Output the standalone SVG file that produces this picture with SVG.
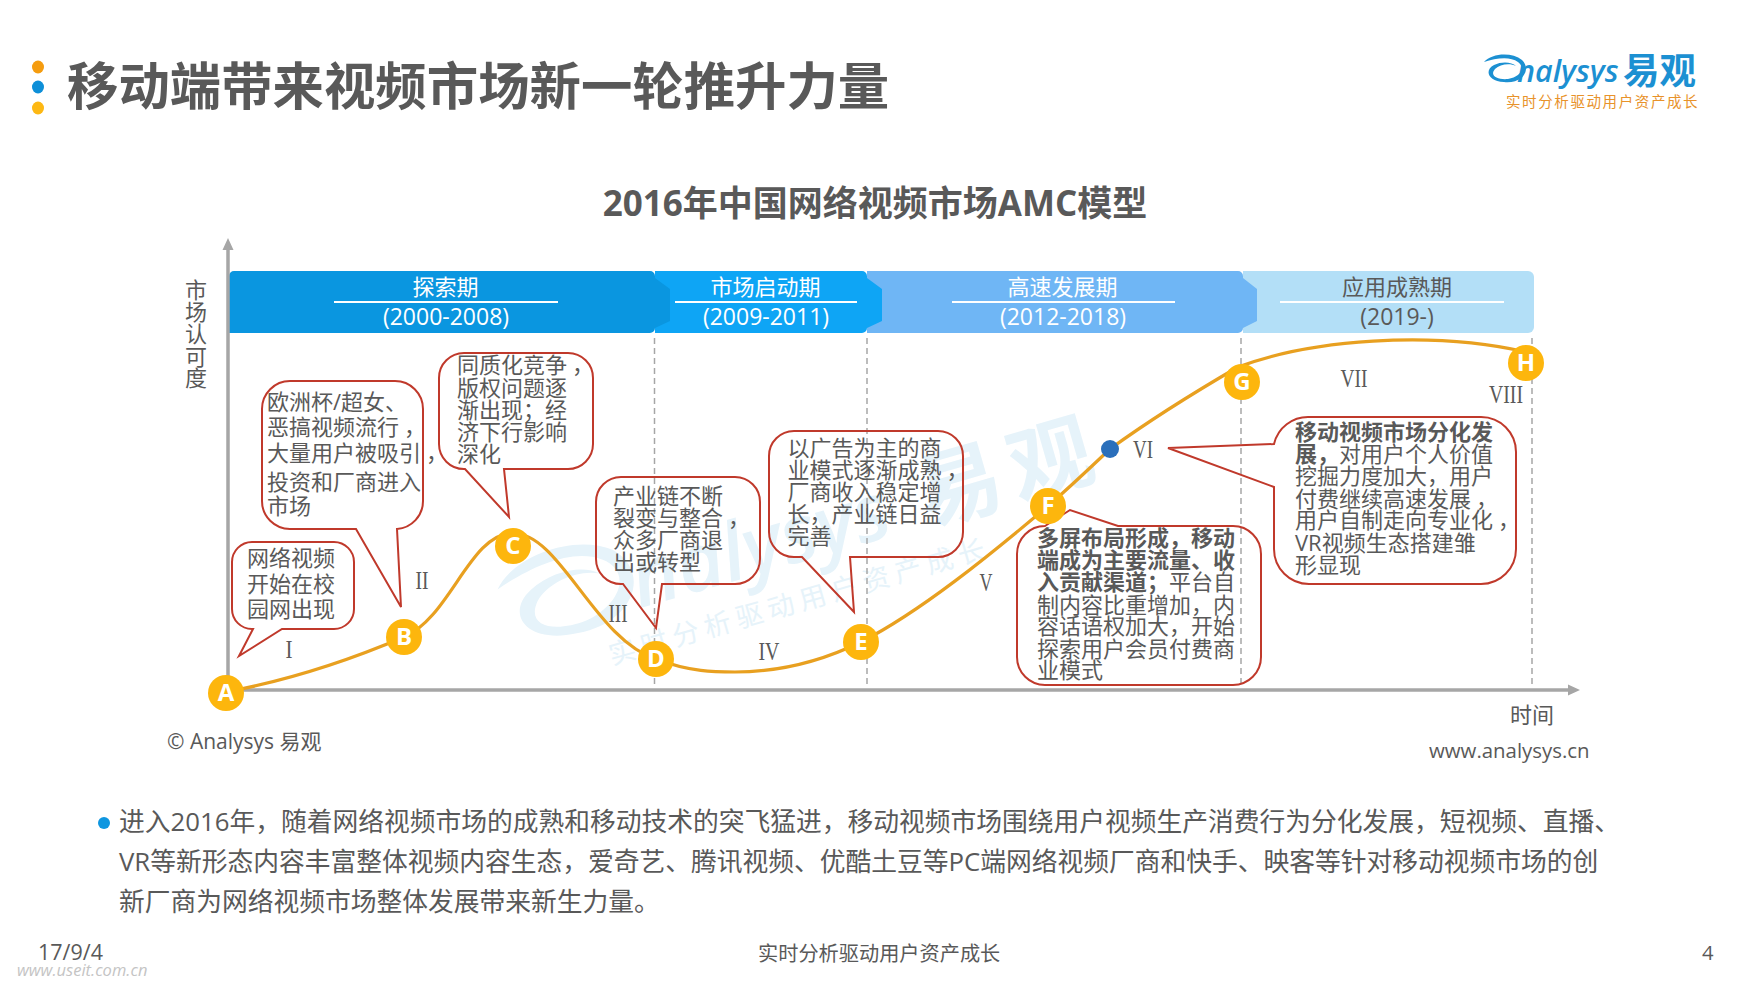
<svg xmlns="http://www.w3.org/2000/svg" width="1760" height="990" viewBox="0 0 1760 990">
<style>
text{font-family:"Open Sans","Noto Sans CJK SC",sans-serif;fill:#595959}
.t{font-size:22px}
.b{font-weight:700}
.band{font-size:22px;text-anchor:middle;fill:#fff}
.yr{font-size:23px}
.rn{font-family:"Liberation Serif",serif;font-size:25px;text-anchor:middle}
.body{font-size:25.75px}
.foot{font-size:20.2px}
.call{fill:none;stroke:#c0392b;stroke-width:2}
.dash{stroke:#a6a6a6;stroke-width:1.5;stroke-dasharray:6 4}
.axis{stroke:#a6a6a6;stroke-width:3.5;fill:none}
.nd{fill:#fdb60d}
.ndt{font-size:24px;font-weight:700;fill:#fff;text-anchor:middle}
.rule{stroke:#fff;stroke-width:2}
text.wm{fill:#e6f3fa}
</style>
<defs>
<path id="swirl" d="M1484 62C1492 53 1512 52 1522 60C1532 70 1522 84 1504 82C1488 81 1484 70 1494 65C1502 61 1512 62 1516 66C1510 63 1500 64 1495 69C1489 76 1498 80 1508 79C1520 77 1526 68 1518 62C1510 56 1496 58 1484 62Z"/>
</defs>
<rect width="1760" height="990" fill="#fff"/>
<g id="watermark" transform="translate(612 665) rotate(-16)">
<use href="#swirl" fill="#e6f3fa" transform="translate(-22 -85) scale(3.2) translate(-1505 -68)"/>
<text class="wm" x="42" y="-47" font-size="80" font-style="italic" font-weight="600">nalysys</text>
<text class="wm" x="342" y="-47" font-size="84" font-weight="700" letter-spacing="10">易观</text>
<text class="wm" x="0" y="0" font-size="27" letter-spacing="6">实时分析驱动用户资产成长</text>
</g>
<g id="header">
<ellipse cx="38" cy="67" rx="6" ry="6.5" fill="#f59c0f"/>
<ellipse cx="38" cy="87" rx="6" ry="6.5" fill="#0e8fd8"/>
<ellipse cx="38" cy="108" rx="6" ry="6.5" fill="#fdb813"/>
<text x="67" y="105" font-size="51.4" class="b">移动端带来视频市场新一轮推升力量</text>
<text x="875" y="216" font-size="35" class="b" text-anchor="middle">2016年中国网络视频市场AMC模型</text>
</g>
<g id="logo">
<use href="#swirl" fill="#1c90d2"/>
<text x="1517" y="82" font-size="30.500" font-style="italic" font-weight="600" style="fill:#1c90d2">nalysys</text>
<text x="1623" y="84" font-size="36.500" class="b" style="fill:#1c90d2">易观</text>
<text x="1506" y="107" font-size="14.500" letter-spacing="1.600" style="fill:#e8922a">实时分析驱动用户资产成长</text>
</g>
<g id="bands">
<path d="M1243 271H1528a6 6 0 0 1 6 6V327a6 6 0 0 1-6 6H1243Z" fill="#b3dff7"/>
<path d="M867 271H1238a5 5 0 0 1 5 5V278L1257 289V321L1243 328V328a5 5 0 0 1-5 5H867Z" fill="#6fb6f5"/>
<path d="M655 271H862a5 5 0 0 1 5 5V278L882 289V321L867 328V328a5 5 0 0 1-5 5H655Z" fill="#0ea5f5"/>
<path d="M229 276a5 5 0 0 1 5-5H650a5 5 0 0 1 5 5V278L670 289V321L655 328V328a5 5 0 0 1-5 5H229Z" fill="#0a96e0"/>
<text class="band" x="445.500" y="294.500">探索期</text><line class="rule" x1="334" y1="302" x2="558" y2="302"/><text class="band yr" x="446" y="325">(2000-2008)</text>
<text class="band" x="765.500" y="294.500">市场启动期</text><line class="rule" x1="675" y1="302" x2="857" y2="302"/><text class="band yr" x="766" y="325">(2009-2011)</text>
<text class="band" x="1062.500" y="294.500">高速发展期</text><line class="rule" x1="952" y1="302" x2="1175" y2="302"/><text class="band yr" x="1063" y="325">(2012-2018)</text>
<text class="band" x="1397" y="294.500" style="fill:#595959">应用成熟期</text><line class="rule" x1="1280" y1="302" x2="1504" y2="302"/><text class="band yr" x="1397" y="325" style="fill:#595959">(2019-)</text>
</g>
<g id="axes">
<line class="dash" x1="654.500" y1="338" x2="654.500" y2="684"/>
<line class="dash" x1="867" y1="338" x2="867" y2="684"/>
<line class="dash" x1="1241" y1="338" x2="1241" y2="684"/>
<line class="dash" x1="1532" y1="338" x2="1532" y2="684"/>
<path class="axis" d="M228 690V248M228 690H1570"/>
<path d="M228 238L233.500 250H222.500ZM1580 690L1568 684.500V695.500Z" fill="#a6a6a6"/>
<g class="t"><text x="185" y="298">市</text><text x="185" y="320">场</text><text x="185" y="342">认</text><text x="185" y="365">可</text><text x="185" y="386">度</text></g>
<text x="1510" y="723" class="t">时间</text>
<text x="1429" y="758" font-size="20.400">www.analysys.cn</text>
<text x="167" y="749" font-size="21">© Analysys 易观</text>
</g>
<g id="connectors">
<path d="M226 692C290 680 350 660 404 637C450 618 470 533 513 533C560 533 595 640 656 659C690 672 715 672 735 672C780 672 820 662 861 642C920 612 990 555 1048 506C1070 487 1090 468 1110 449C1150 420 1195 392 1238 367C1310 340 1430 330 1526 352" fill="none" stroke="#e8a020" stroke-width="3.200"/>
</g>
<g id="callout-a">
<path class="call" d="M252 542H334A20 20 0 0 1 354 562V609A20 20 0 0 1 334 629H282L239 656L253 629H252A20 20 0 0 1 232 609V562A20 20 0 0 1 252 542Z"/>
<text class="t"><tspan x="247" y="566">网络视频</tspan><tspan x="247" y="592">开始在校</tspan><tspan x="247" y="617">园网出现</tspan></text>
</g>
<g id="callout-b">
<path class="call" d="M290 381H395A28 28 0 0 1 423 409V501A28 28 0 0 1 397 529L401 607L356 529H290A28 28 0 0 1 262 501V409A28 28 0 0 1 290 381Z"/>
<text class="t"><tspan x="267" y="410">欧洲杯/超女、</tspan><tspan x="267" y="435">恶搞视频流行<tspan dx="5">，</tspan></tspan><tspan x="267" y="461">大量用户被吸引<tspan dx="5">，</tspan></tspan><tspan x="267" y="490">投资和厂商进入</tspan><tspan x="267" y="514">市场</tspan></text>
</g>
<g id="callout-c">
<path class="call" d="M464 353H568A25 25 0 0 1 593 378V444A25 25 0 0 1 568 469H504L509 517L465 469H464A25 25 0 0 1 439 444V378A25 25 0 0 1 464 353Z"/>
<text class="t"><tspan x="457" y="373">同质化竞争<tspan dx="5">，</tspan></tspan><tspan x="457" y="396">版权问题逐</tspan><tspan x="457" y="418">渐出现；经</tspan><tspan x="457" y="440">济下行影响</tspan><tspan x="457" y="462">深化</tspan></text>
</g>
<g id="callout-d">
<path class="call" d="M621 477H735A25 25 0 0 1 760 502V559A25 25 0 0 1 735 584H662L656 628L623 584H621A25 25 0 0 1 596 559V502A25 25 0 0 1 621 477Z"/>
<text class="t"><tspan x="613" y="504">产业链不断</tspan><tspan x="613" y="526">裂变与整合<tspan dx="5">，</tspan></tspan><tspan x="613" y="548">众多厂商退</tspan><tspan x="613" y="570">出或转型</tspan></text>
</g>
<g id="callout-e">
<path class="call" d="M794 431H938A25 25 0 0 1 963 456V532A25 25 0 0 1 938 557H850L854 612L802 557H794A25 25 0 0 1 769 532V456A25 25 0 0 1 794 431Z"/>
<text class="t"><tspan x="787.500" y="456">以广告为主的商</tspan><tspan x="787.500" y="478">业模式逐渐成熟<tspan dx="5">，</tspan></tspan><tspan x="787.500" y="500">厂商收入稳定增</tspan><tspan x="787.500" y="522">长，产业链日益</tspan><tspan x="787.500" y="544">完善</tspan></text>
</g>
<g id="callout-f">
<path class="call" d="M1045 526L1070 510L1118 526H1233A28 28 0 0 1 1261 554V657A28 28 0 0 1 1233 685H1045A28 28 0 0 1 1017 657V554A28 28 0 0 1 1045 526Z"/>
<text class="t"><tspan x="1037" y="546" class="b">多屏布局形成，移动</tspan><tspan x="1037" y="568" class="b">端成为主要流量、收</tspan><tspan x="1037" y="590"><tspan class="b">入贡献渠道；</tspan>平台自</tspan><tspan x="1037" y="613">制内容比重增加，内</tspan><tspan x="1037" y="634">容话语权加大，开始</tspan><tspan x="1037" y="657">探索用户会员付费商</tspan><tspan x="1037" y="678">业模式</tspan></text>
</g>
<g id="callout-g">
<path class="call" d="M1309 417H1481A35 35 0 0 1 1516 452V549A35 35 0 0 1 1481 584H1309A35 35 0 0 1 1274 549V487L1168 448L1274 444A35 35 0 0 1 1309 417Z"/>
<text class="t"><tspan x="1295" y="440" class="b">移动视频市场分化发</tspan><tspan x="1295" y="462"><tspan class="b">展，</tspan>对用户个人价值</tspan><tspan x="1295" y="484">挖掘力度加大，用户</tspan><tspan x="1295" y="507">付费继续高速发展<tspan dx="5">，</tspan></tspan><tspan x="1295" y="528">用户自制走向专业化<tspan dx="5">，</tspan></tspan><tspan x="1295" y="551">VR视频生态搭建雏</tspan><tspan x="1295" y="573">形显现</tspan></text>
</g>
<g id="stage-labels">
<text class="rn" x="289" y="658" textLength="7" lengthAdjust="spacingAndGlyphs">I</text>
<text class="rn" x="422" y="589" textLength="13" lengthAdjust="spacingAndGlyphs">II</text>
<text class="rn" x="618" y="622" textLength="19" lengthAdjust="spacingAndGlyphs">III</text>
<text class="rn" x="769" y="660" textLength="21" lengthAdjust="spacingAndGlyphs">IV</text>
<text class="rn" x="986" y="591" textLength="13" lengthAdjust="spacingAndGlyphs">V</text>
<text class="rn" x="1143" y="458" textLength="20" lengthAdjust="spacingAndGlyphs">VI</text>
<text class="rn" x="1354" y="387" textLength="27" lengthAdjust="spacingAndGlyphs">VII</text>
<text class="rn" x="1506" y="403" textLength="34" lengthAdjust="spacingAndGlyphs">VIII</text>
</g>
<g id="node-a"><circle class="nd" cx="226" cy="693" r="18"/><text class="ndt" x="226" y="701">A</text></g>
<g id="node-b"><circle class="nd" cx="404" cy="637" r="18"/><text class="ndt" x="404" y="645">B</text></g>
<g id="node-c"><circle class="nd" cx="513" cy="546" r="18"/><text class="ndt" x="513" y="554">C</text></g>
<g id="node-d"><circle class="nd" cx="656" cy="659" r="18"/><text class="ndt" x="656" y="667">D</text></g>
<g id="node-e"><circle class="nd" cx="861" cy="642" r="18"/><text class="ndt" x="861" y="650">E</text></g>
<g id="node-f"><circle class="nd" cx="1048" cy="506" r="18"/><text class="ndt" x="1048" y="514">F</text></g>
<g id="node-g"><circle class="nd" cx="1242" cy="382" r="18"/><text class="ndt" x="1242" y="390">G</text></g>
<g id="node-h"><circle class="nd" cx="1526" cy="363" r="18"/><text class="ndt" x="1526" y="371">H</text></g>
<g id="node-vi"><circle cx="1110" cy="449" r="9" fill="#2a6fbb"/></g>
<g id="body">
<circle cx="104" cy="823" r="6" fill="#0e96e0"/>
<text class="body" x="119" y="831">进入2016年，随着网络视频市场的成熟和移动技术的突飞猛进，移动视频市场围绕用户视频生产消费行为分化发展，短视频、直播、</text>
<text class="body" x="119" y="871">VR等新形态内容丰富整体视频内容生态，爱奇艺、腾讯视频、优酷土豆等PC端网络视频厂商和快手、映客等针对移动视频市场的创</text>
<text class="body" x="119" y="911">新厂商为网络视频市场整体发展带来新生力量。</text>
</g>
<g id="footer">
<text x="38" y="960" font-size="21.500">17/9/4</text>
<text class="foot" x="758" y="961">实时分析驱动用户资产成长</text>
<text class="foot" x="1702" y="960">4</text>
<text x="17" y="976" font-size="16.500" font-style="italic" style="fill:#c4c4c4">www.useit.com.cn</text>
</g>
</svg>
